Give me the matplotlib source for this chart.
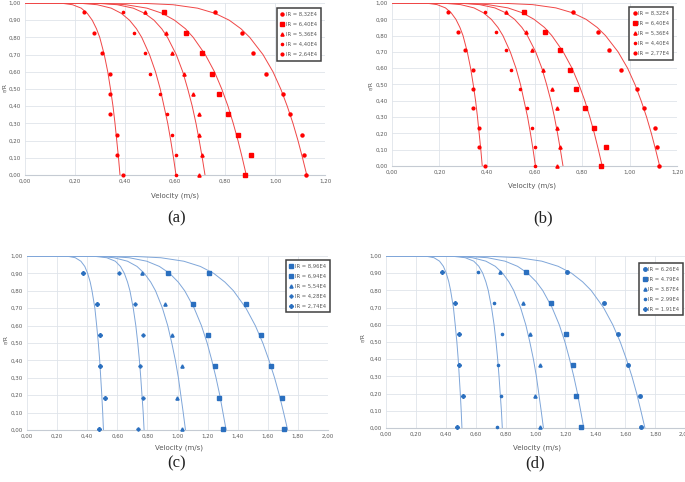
import matplotlib
matplotlib.use("Agg")
import matplotlib.pyplot as plt
from matplotlib.ticker import FuncFormatter, MultipleLocator

# measured points, panels (a) and (b)
R_AB = [0.946, 0.825, 0.709, 0.590, 0.470, 0.353, 0.235, 0.117, 0.0]
V_AB_1 = [0.761, 0.869, 0.912, 0.964, 1.033, 1.061, 1.107, 1.115, 1.123]
V_AB_2 = [0.556, 0.644, 0.709, 0.748, 0.775, 0.811, 0.852, 0.903, 0.880]
V_AB_3 = [0.480, 0.563, 0.589, 0.637, 0.673, 0.696, 0.696, 0.709, 0.696]
V_AB_4 = [0.393, 0.437, 0.480, 0.500, 0.539, 0.569, 0.589, 0.604, 0.604]
V_AB_5 = [0.237, 0.276, 0.309, 0.340, 0.340, 0.340, 0.367, 0.367, 0.393]

# measured points, panels (c) and (d)
R_CD = [0.905, 0.725, 0.545, 0.365, 0.185, 0.005]
V_CD_1 = [1.210, 1.458, 1.553, 1.619, 1.696, 1.705]
V_CD_2 = [0.934, 1.104, 1.204, 1.248, 1.274, 1.303]
V_CD_3 = [0.762, 0.917, 0.963, 1.029, 0.998, 1.027]
V_CD_4 = [0.614, 0.720, 0.773, 0.751, 0.769, 0.740]
V_CD_5 = [0.375, 0.464, 0.486, 0.486, 0.515, 0.477]

# profile curves
CURVE_R = [1.00, 0.998, 0.99, 0.97, 0.94, 0.90, 0.85, 0.80, 0.70, 0.60,
           0.50, 0.40, 0.30, 0.20, 0.10, 0.00]
C_AB_1 = [0, .472, .592, .690, .760, .817, .864, .899, .952, .992, 1.023, 1.049, 1.072, 1.092, 1.110, 1.127]
C_AB_2 = [0, .308, .404, .488, .549, .598, .642, .673, .721, .758, .787, .812, .833, .852, .869, .885]
C_AB_3 = [0, .293, .369, .433, .479, .516, .547, .570, .605, .631, .651, .669, .684, .697, .709, .720]
C_AB_4 = [0, .223, .289, .345, .385, .418, .446, .467, .498, .522, .541, .556, .571, .583, .594, .604]
C_AB_5 = [0, .150, .190, .225, .249, .269, .286, .299, .317, .331, .342, .352, .360, .367, .374, .380]

C_CD_1 = [0, .704, .889, 1.042, 1.152, 1.241, 1.315, 1.372, 1.455, 1.517, 1.567, 1.608, 1.645, 1.677, 1.705, 1.732]
C_CD_2 = [0, .538, .679, .796, .880, .948, 1.005, 1.048, 1.111, 1.159, 1.197, 1.228, 1.256, 1.281, 1.302, 1.323]
C_CD_3 = [0, .480, .578, .668, .731, .780, .822, .854, .900, .935, .962, .986, 1.006, 1.022, 1.038, 1.053]
C_CD_4 = [0, .450, .530, .587, .621, .647, .668, .684, .706, .723, .736, .747, .756, .764, .772, .778]
C_CD_5 = [0, .273, .321, .358, .384, .403, .420, .432, .451, .463, .474, .483, .490, .497, .503, .508]

LABELS_A = ["IR = 8,32E4", "IR = 6,40E4", "IR = 5,36E4", "IR = 4,40E4", "IR = 2,64E4"]
LABELS_B = ["IR = 8,32E4", "IR = 6,40E4", "IR = 5,36E4", "IR = 4,40E4", "IR = 2,77E4"]
LABELS_C = ["IR = 8,96E4", "IR = 6,94E4", "IR = 5,54E4", "IR = 4,28E4", "IR = 2,74E4"]
LABELS_D = ["IR = 6.26E4", "IR = 4.79E4", "IR = 3.87E4", "IR = 2.99E4", "IR = 1.91E4"]

POINTS_AB = [V_AB_1, V_AB_2, V_AB_3, V_AB_4, V_AB_5]
CURVES_AB = [C_AB_1, C_AB_2, C_AB_3, C_AB_4, C_AB_5]
POINTS_CD = [V_CD_1, V_CD_2, V_CD_3, V_CD_4, V_CD_5]
CURVES_CD = [C_CD_1, C_CD_2, C_CD_3, C_CD_4, C_CD_5]

RED_MARK = [("o", 2.2), ("s", 3.0), ("^", 2.3), ("o", 1.6), ("o", 2.0)]
BLUE_MARK_C = [("s", 2.8), ("s", 2.4), ("^", 2.3), ("P", 2.2), ("P", 2.6)]
BLUE_MARK_D = [("o", 2.5), ("s", 2.8), ("^", 2.3), ("o", 1.6), ("P", 2.6)]

W, H = 685, 482
GRID = "#dfe4ea"
TXT = "#595959"

fig = plt.figure(figsize=(W / 100, H / 100), dpi=100)
fig.patch.set_facecolor("white")


def px_axes(left, top, right, bottom):
    return fig.add_axes([left / W, 1 - bottom / H, (right - left) / W, (bottom - top) / H])


def comma(v, pos):
    return f"{v:.2f}".replace(".", ",")


def draw_panel(ax, xmax, r_pts, pts, curves, labels, marks, pcol, lcol, leg_anchor):
    for vals, cur, lab, (m, ms) in zip(pts, curves, labels, marks):
        ax.plot(cur, CURVE_R, color=lcol, lw=0.7, zorder=2)
        ax.plot(vals, r_pts, ls="none", marker=m, ms=ms, color=pcol,
                mec=pcol, label=lab, clip_on=False, zorder=3)
    ax.set_xlim(0, xmax)
    ax.set_ylim(0, 1)
    ax.xaxis.set_major_locator(MultipleLocator(0.2))
    ax.yaxis.set_major_locator(MultipleLocator(0.1))
    ax.xaxis.set_major_formatter(FuncFormatter(comma))
    ax.yaxis.set_major_formatter(FuncFormatter(comma))
    ax.grid(True, color=GRID, lw=0.6)
    ax.set_axisbelow(True)
    for s in ["top", "right", "left"]:
        ax.spines[s].set_visible(False)
    ax.spines["bottom"].set_color("#c5cbd3")
    ax.spines["bottom"].set_linewidth(0.8)
    ax.tick_params(length=0, labelsize=4.0, colors=TXT, pad=3.0)
    leg = ax.legend(loc="upper right", bbox_to_anchor=leg_anchor, fontsize=3.8,
                    frameon=True, fancybox=False, edgecolor="#404040", framealpha=1,
                    borderpad=0.7, labelspacing=0.95, handlelength=0.7,
                    handletextpad=0.3, borderaxespad=0)
    leg.get_frame().set_linewidth(1.1)
    for t in leg.get_texts():
        t.set_color(TXT)


ax_a = px_axes(25, 3, 325, 175)
draw_panel(ax_a, 1.2, R_AB, POINTS_AB, CURVES_AB, LABELS_A, RED_MARK,
           "#ff0000", "#f04646", (0.985, 0.97))
ax_b = px_axes(392, 3, 677, 166)
draw_panel(ax_b, 1.2, R_AB, POINTS_AB, CURVES_AB, LABELS_B, RED_MARK,
           "#ff0000", "#f04646", (0.986, 0.975))
ax_c = px_axes(27, 256, 328, 430)
draw_panel(ax_c, 2.0, R_CD, POINTS_CD, CURVES_CD, LABELS_C, BLUE_MARK_C,
           "#2a6fbf", "#7fa6d9", (1.005, 0.977))
ax_d = px_axes(386, 256, 685, 428)
draw_panel(ax_d, 2.0, R_CD, POINTS_CD, CURVES_CD, LABELS_D, BLUE_MARK_D,
           "#2a6fbf", "#7fa6d9", (0.993, 0.96))

# axis titles and captions in pixel positions
def ftext(x, y, s, **kw):
    fig.text(x / W, 1 - y / H, s, ha="center", va="center", **kw)

for x, y in [(175, 196), (532, 186), (179, 448), (537, 448)]:
    ftext(x, y, "Velocity (m/s)", fontsize=5, color=TXT)
for x, y in [(4, 88), (370, 86), (5, 340), (362, 337)]:
    ftext(x, y, "r/R", fontsize=4.5, color=TXT, rotation=90)
for x, y, s in [(177, 218, "(a)"), (543, 218, "(b)"), (177, 463, "(c)"), (535, 463, "(d)")]:
    ftext(x, y, s, fontsize=12, family="Liberation Serif", color="#222222")

fig.savefig("out.png", dpi=100, facecolor="white")
